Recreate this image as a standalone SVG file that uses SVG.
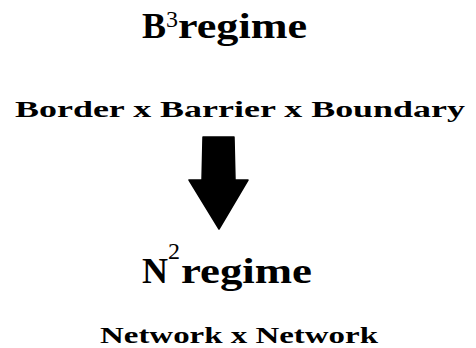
<svg xmlns="http://www.w3.org/2000/svg" width="476" height="348" viewBox="0 0 476 348">
<style>
text{font-family:"Liberation Serif","DejaVu Serif",serif;font-weight:bold;fill:#000}
.big{font-size:36px}
.sup{font-size:24px;font-weight:normal}
.sub{font-size:23px}
</style>
<rect width="476" height="348" fill="#fff"/>
<g id="b3">
<text class="big" x="142" y="38" textLength="24" lengthAdjust="spacingAndGlyphs">B</text>
<text class="sup" x="166" y="27">3</text>
<text class="big" x="178" y="38" textLength="129" lengthAdjust="spacingAndGlyphs">regime</text>
</g>
<g id="b3-label">
<text class="sub" x="15" y="117" textLength="450" lengthAdjust="spacingAndGlyphs">Border x Barrier x Boundary</text>
</g>
<g id="connectors">
<path d="M203 137 L234 137 L235 180 L248 180 L219 229 L189 180 L202 180 Z" fill="#000" stroke="#000" stroke-width="1.5" stroke-linejoin="round"/>
</g>
<g id="n2">
<text class="big" x="142" y="283" textLength="26" lengthAdjust="spacingAndGlyphs">N</text>
<text class="sup" x="168" y="259">2</text>
<text class="big" x="181" y="283" textLength="131" lengthAdjust="spacingAndGlyphs">regime</text>
</g>
<g id="n2-label">
<text class="sub" x="100" y="343" textLength="278" lengthAdjust="spacingAndGlyphs">Network x Network</text>
</g>
</svg>
